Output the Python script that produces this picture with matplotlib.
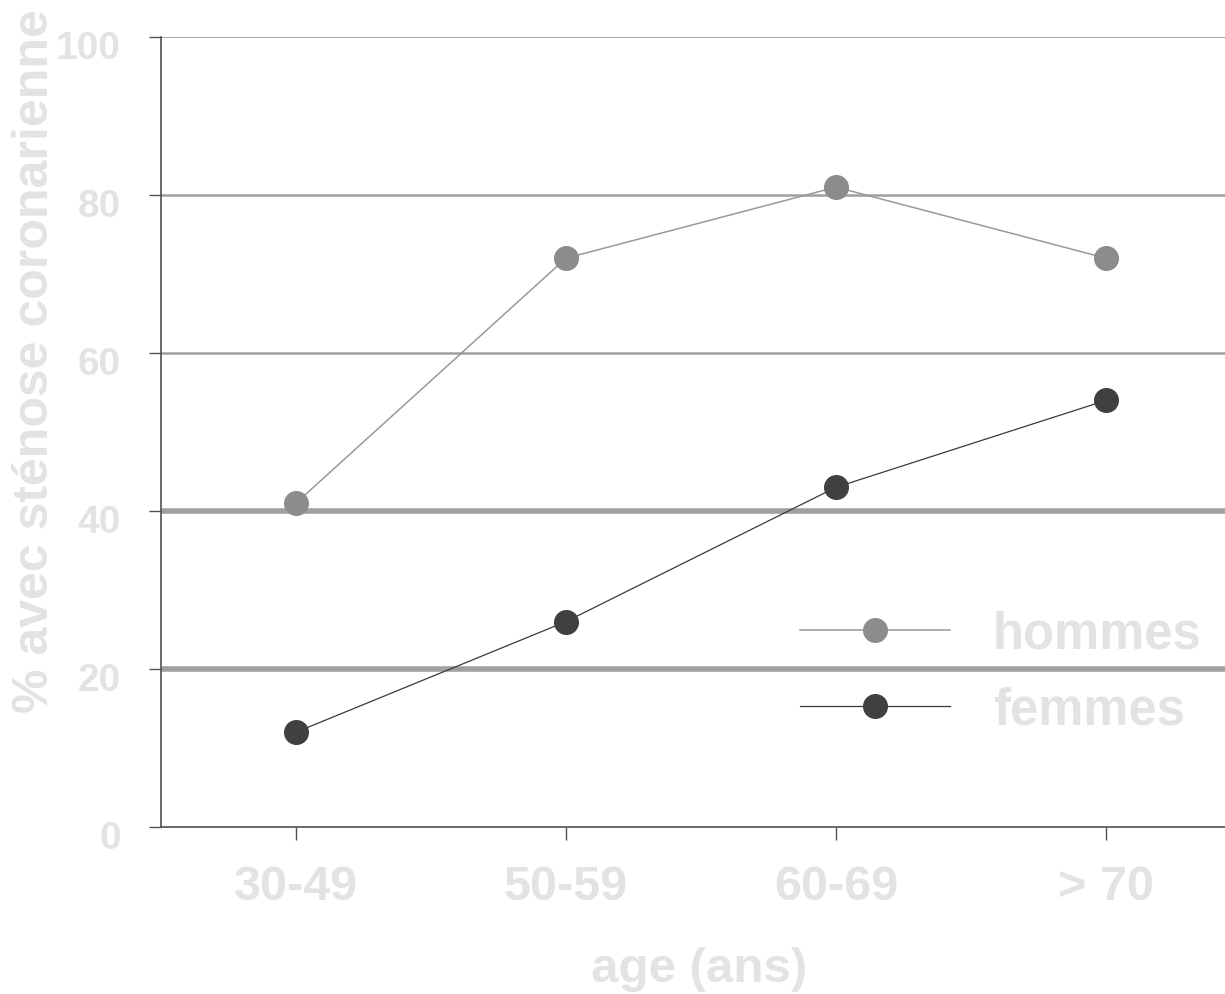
import matplotlib.pyplot as plt
from matplotlib.transforms import ScaledTranslation

# Données
ages = ['30-49', '50-59', '60-69', '> 70']
hommes = [41, 72, 81, 72]
femmes = [12, 26, 43, 54]
grilles = [100, 80, 60, 40, 20]
epaisseurs = [1.3, 1.8, 1.8, 4.0, 4.0]

texte = '#e3e3e3'
plt.rcParams['font.family'] = ['Liberation Sans', 'DejaVu Sans']
plt.rcParams['font.weight'] = 'bold'

fig = plt.figure(figsize=(12.25, 9.95), dpi=100)
ax = fig.add_axes([161 / 1225, 1 - 828 / 995, 1080 / 1225, 790 / 995])

# Lignes de grille horizontales
for g, lw in zip(grilles, epaisseurs):
    ax.axhline(g, color='#a0a0a0', lw=lw, zorder=1)

x = range(len(ages))
ax.plot(x, hommes, color='#999999', lw=1.1, marker='o', ms=17,
        mfc='#8c8c8c', mec='#8c8c8c', label='hommes', zorder=3)
ax.plot(x, femmes, color='#3a3a3a', lw=0.9, marker='o', ms=17,
        mfc='#404040', mec='#404040', label='femmes', zorder=3)

ax.set_xlim(-0.5, 3.5)
ax.set_ylim(0, 100)
ax.set_yticks([0, 20, 40, 60, 80, 100])
ax.set_xticks(list(x))
ax.set_xticklabels(ages)

for s in ['top', 'right']:
    ax.spines[s].set_visible(False)
for s in ['left', 'bottom']:
    ax.spines[s].set_color('#505050')
    ax.spines[s].set_linewidth(1.2)

ax.tick_params(axis='y', length=9, width=1, color='#505050', pad=20,
               labelsize=28, labelcolor=texte)
ax.tick_params(axis='x', length=9, width=1, color='#505050', pad=18,
               labelsize=35, labelcolor=texte)

# les étiquettes de l'axe y sont un peu plus basses que les graduations
decalage = ScaledTranslation(0, -7 / 100, fig.dpi_scale_trans)
for lab in ax.get_yticklabels():
    lab.set_transform(lab.get_transform() + decalage)

fig.text(35 / 1225, 1 - 361 / 995, '% avec sténose coronarienne', rotation=90,
         ha='center', va='center', fontsize=36, color=texte, fontweight='bold')
fig.text(699 / 1225, 1 - 970 / 995, 'age (ans)', ha='center', va='center',
         fontsize=35.5, color=texte, fontweight='bold')

leg = ax.legend(loc='center left', bbox_to_anchor=(800 / 1225, 1 - 673 / 995),
                bbox_transform=fig.transFigure, frameon=False, fontsize=36.5,
                handlelength=2.95, handletextpad=0.85, labelspacing=0.53,
                borderpad=0, borderaxespad=0)
for t in leg.get_texts():
    t.set_color(texte)

fig.savefig('out.png', dpi=100)
